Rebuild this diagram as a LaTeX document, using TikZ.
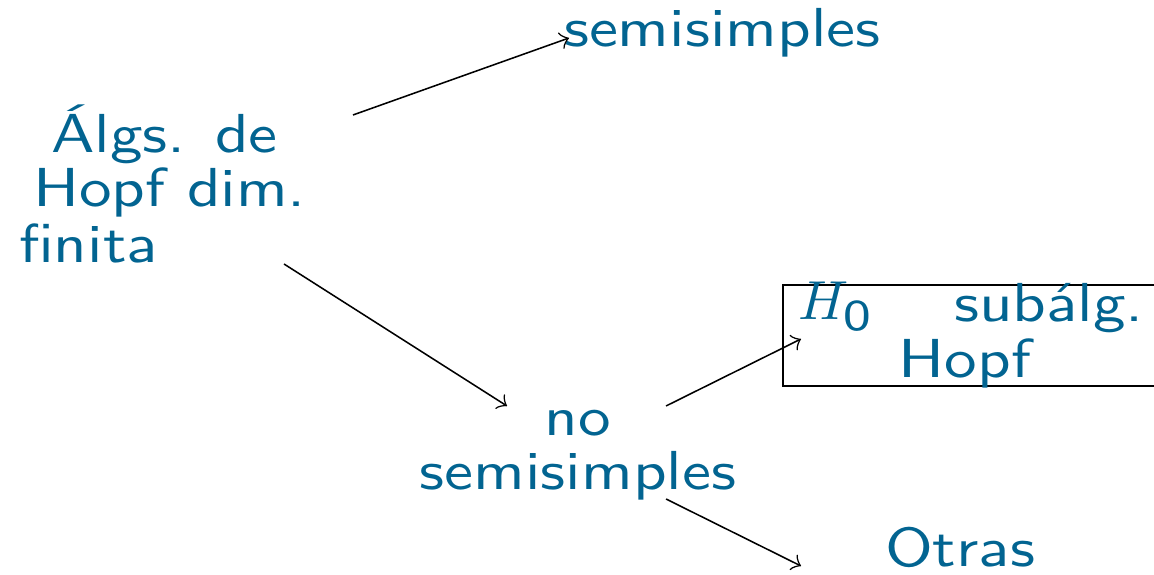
\documentclass[tikz,border=0pt]{standalone}
\usepackage{fontspec}
\newfontfamily\sswide{Latin Modern Sans}[FakeStretch=1.185]
\definecolor{txt}{RGB}{2,100,145}
\tikzset{
  lbl/.style={inner sep=0pt, text=txt, font=\sswide\fontsize{10}{10}\selectfont},
  arr/.style={->, line width=0.28pt, black},
  boxline/.style={draw=black, line width=0.3pt}
}
\begin{document}
\begin{tikzpicture}[x=0.182pt,y=-0.182pt]
\useasboundingbox (0,0) rectangle (1154,575);
% top node
\node[lbl, anchor=base west] (semi) at (563,47) {semisimples};
% left block
\node[lbl, anchor=base west] (algsA) at (50,153) {Álgs.\hspace{5.4pt}de};
\node[lbl, anchor=base west] (algsB) at (32,207) {Hopf dim.};
\node[lbl, anchor=base west] (algsC) at (18,263) {finita};
% no semisimples
\node[lbl, anchor=base] (noA) at (578,436) {no};
\node[lbl, anchor=base] (noB) at (578,490) {semisimples};
% box
\draw[boxline] (1160,285) -- (783,285) -- (783,386) -- (1160,386);
\node[lbl, anchor=base west] (hzero) at (797,320) {$H_{\mbox{\sswide\fontsize{8}{8}\selectfont 0}}$};
\node[lbl, anchor=base east] (subalg) at (1145,322) {subálg.};
\node[lbl, anchor=base] (hopf) at (965,378) {Hopf};
% otras
\node[lbl, anchor=base] (otras) at (960,567) {Otras};
% arrows
\coordinate (a1s) at (353,115); \coordinate (a1e) at (569,38);
\coordinate (a2s) at (284,264); \coordinate (a2e) at (507,406);
\coordinate (a3s) at (666,406); \coordinate (a3e) at (801,339);
\coordinate (a4s) at (666,499); \coordinate (a4e) at (801,566);
\draw[arr] (a1s) -- (a1e);
\draw[arr] (a2s) -- (a2e);
\draw[arr] (a3s) -- (a3e);
\draw[arr] (a4s) -- (a4e);
\end{tikzpicture}
\end{document}
